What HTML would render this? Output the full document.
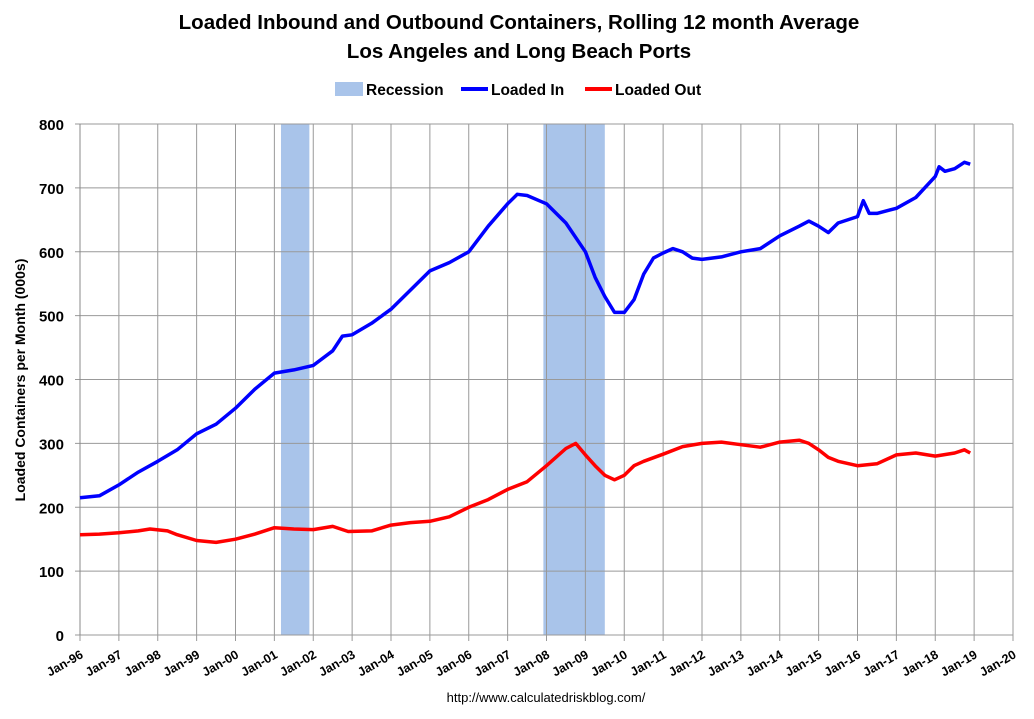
<!DOCTYPE html>
<html><head><meta charset="utf-8"><style>
body{margin:0;background:#fff;font-family:"Liberation Sans",sans-serif}
svg text{font-family:"Liberation Sans",sans-serif}
</style></head><body>
<svg id="c" width="1034" height="714">
<text x="519" y="29" text-anchor="middle" font-size="20.5" font-weight="bold">Loaded Inbound and Outbound Containers, Rolling 12 month Average</text>
<text x="519" y="58" text-anchor="middle" font-size="20.5" font-weight="bold">Los Angeles and Long Beach Ports</text>
<g>
<rect x="335" y="82" width="28" height="14" fill="#a9c4ea"/>
<text x="366" y="95" font-size="15.5" font-weight="bold">Recession</text>
<line x1="461" y1="89" x2="488" y2="89" stroke="#0000ff" stroke-width="4"/>
<text x="491" y="95" font-size="15.5" font-weight="bold">Loaded In</text>
<line x1="585" y1="89" x2="612" y2="89" stroke="#ff0000" stroke-width="4"/>
<text x="615" y="95" font-size="15.5" font-weight="bold">Loaded Out</text>
</g>
<text transform="translate(25,380) rotate(-90)" text-anchor="middle" font-size="14" font-weight="bold">Loaded Containers per Month (000s)</text>
<text x="546" y="702" text-anchor="middle" font-size="13">http://www.calculatedriskblog.com/</text>
<g id="plot"></g>
</svg>
<script>
const recStart=[2001.17,2007.92];
const recEnd=[2001.9,2009.5];
const yTicks=[0,100,200,300,400,500,600,700,800];
const xYears=[1996,1997,1998,1999,2000,2001,2002,2003,2004,2005,2006,2007,2008,2009,2010,2011,2012,2013,2014,2015,2016,2017,2018,2019,2020];
const inDates=[1996,1996.5,1997,1997.5,1998,1998.5,1999,1999.5,2000,2000.5,2001,2001.5,2002,2002.5,2002.75,2003,2003.5,2004,2004.5,2005,2005.5,2006,2006.5,2007,2007.25,2007.5,2008,2008.5,2009,2009.25,2009.5,2009.75,2010,2010.25,2010.5,2010.75,2011,2011.25,2011.5,2011.75,2012,2012.5,2013,2013.5,2014,2014.5,2014.75,2015,2015.25,2015.5,2016,2016.15,2016.3,2016.5,2017,2017.5,2018,2018.1,2018.25,2018.5,2018.75,2018.9];
const inVals=[215,218,235,255,272,290,315,330,355,385,410,415,422,445,468,470,488,510,540,570,583,600,640,675,690,688,675,645,600,560,530,505,505,525,565,590,598,605,600,590,588,592,600,605,625,640,648,640,630,645,655,680,660,660,668,685,718,733,726,730,740,737];
const outDates=[1996,1996.5,1997,1997.5,1997.8,1998.25,1998.5,1999,1999.5,2000,2000.5,2001,2001.5,2002,2002.5,2002.9,2003.5,2004,2004.5,2005,2005.5,2006,2006.5,2007,2007.5,2008,2008.5,2008.75,2009,2009.25,2009.5,2009.75,2010,2010.25,2010.5,2011,2011.5,2012,2012.5,2013,2013.5,2014,2014.5,2014.75,2015,2015.25,2015.5,2016,2016.5,2017,2017.5,2018,2018.5,2018.75,2018.9];
const outVals=[157,158,160,163,166,163,157,148,145,150,158,168,166,165,170,162,163,172,176,178,185,200,212,228,240,265,292,300,282,265,250,243,250,265,272,283,295,300,302,298,294,302,305,300,290,278,272,265,268,282,285,280,285,290,285];
const X0=80,X1=1013,Y0=635,Y1=124;
const xs=d=>X0+(d-1996)/24*(X1-X0);
const ys=v=>Y0-v/800*(Y0-Y1);
const NS="http://www.w3.org/2000/svg";
const g=document.getElementById('plot');
function mk(t,a){const e=document.createElementNS(NS,t);for(const k in a)e.setAttribute(k,a[k]);g.appendChild(e);return e;}
for(let i=0;i<recStart.length;i++){
 const r=mk('rect',{x:xs(recStart[i]),y:Y1,width:xs(recEnd[i])-xs(recStart[i]),height:Y0-Y1,fill:'#a9c4ea'});
 
 
}
xYears.forEach(yr=>{
 const l=mk('line',{x1:xs(yr),x2:xs(yr),y1:Y1,y2:Y0+6,stroke:'#999','stroke-width':1});
 
 
 const x=xs(yr),t=mk('text',{transform:`translate(${x+4},${Y0+22}) rotate(-30)`,'text-anchor':'end','font-size':12.5,'font-weight':'bold'});
 t.textContent='Jan-'+String(yr).slice(2);
 
 
});
yTicks.forEach(v=>{
 const l=mk('line',{x1:X0-5,x2:X1,y1:ys(v),y2:ys(v),stroke:'#999','stroke-width':1});
 
 
 const t=mk('text',{x:X0-16,y:ys(v)+6,'text-anchor':'end','font-size':15,'font-weight':'bold'});
 t.textContent=v;
 
 
});
const ax=mk('line',{x1:X0,x2:X0,y1:Y1,y2:Y0,stroke:'#888'});


function line(ds,vs,col,name){
 const p=mk('path',{d:ds.map((d,i)=>(i?'L':'M')+xs(d).toFixed(1)+','+ys(vs[i]).toFixed(1)).join(''),fill:'none',stroke:col,'stroke-width':3.5,'stroke-linejoin':'round'});
 
 
}
line(outDates,outVals,'#ff0000','loaded-out-line');
line(inDates,inVals,'#0000ff','loaded-in-line');
</script>
</body></html>
